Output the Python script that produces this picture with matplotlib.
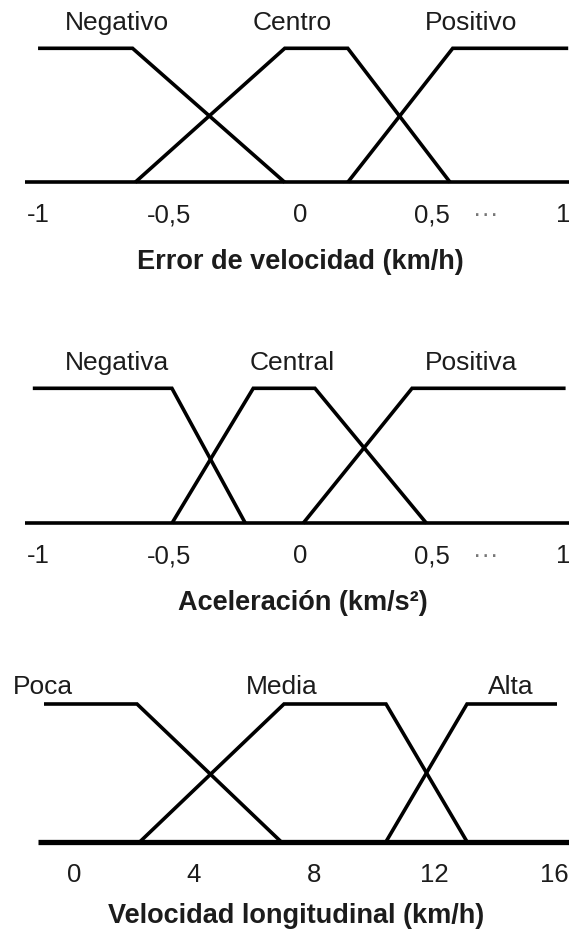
import matplotlib
matplotlib.use("Agg")
import matplotlib.pyplot as plt

plt.rcParams["font.family"] = ["Liberation Sans", "DejaVu Sans"]

# --- panel 1: error de velocidad ---
err_ticks = [-1, -0.5, 0, 0.5, 1]
err_ticklabels = ["-1", "-0,5", "0", "0,5", "1"]
err_names = ["Negativo", "Centro", "Positivo"]
err_x = [[-1.0, -0.64, -0.06],
         [-0.63, -0.06, 0.18, 0.57],
         [0.18, 0.58, 1.02]]
err_y = [[1, 1, 0], [0, 1, 1, 0], [0, 1, 1]]
err_base = [-1.05, 1.03]

# --- panel 2: aceleracion ---
acc_ticks = [-1, -0.5, 0, 0.5, 1]
acc_ticklabels = ["-1", "-0,5", "0", "0,5", "1"]
acc_names = ["Negativa", "Central", "Positiva"]
acc_x = [[-1.02, -0.49, -0.21],
         [-0.49, -0.18, 0.055, 0.48],
         [0.01, 0.425, 1.01]]
acc_y = [[1, 1, 0], [0, 1, 1, 0], [0, 1, 1]]
acc_base = [-1.05, 1.03]

# --- panel 3: velocidad longitudinal ---
vel_ticks = [0, 4, 8, 12, 16]
vel_ticklabels = ["0", "4", "8", "12", "16"]
vel_names = ["Poca", "Media", "Alta"]
vel_x = [[-1.0, 2.1, 6.9],
         [2.2, 7.0, 10.4, 13.1],
         [10.4, 13.1, 16.1]]
vel_y = [[1, 1, 0], [0, 1, 1, 0], [0, 1, 1]]
vel_base = [-1.2, 16.5]

W, H = 569, 930
fig = plt.figure(figsize=(W / 100, H / 100), dpi=100)
TXT = "#1c1c1c"
FS = 19
LW = 2.6


def panel(ytop, ybot, xlim, xs, ys, base, names, name_x, name_y,
          ticks, ticklabels, dots_x, xlabel, xlabel_px, xlabel_y,
          base_lw=LW):
    # axes box in pixels: full width, membership 1 at ytop, 0 at ybot
    ax = fig.add_axes([0, 1 - ybot / H, 1, (ybot - ytop) / H])
    ax.set_xlim(*xlim)
    ax.set_ylim(0, 1)
    for s in ax.spines.values():
        s.set_visible(False)
    ax.plot(base, [0, 0], color="black", lw=base_lw, solid_capstyle="butt",
            clip_on=False)
    for x, y in zip(xs, ys):
        ax.plot(x, y, color="black", lw=LW, solid_joinstyle="miter",
                solid_capstyle="butt", clip_on=False)
    for nm, nx in zip(names, name_x):
        ax.text(nx, name_y, nm, ha="center", va="center", fontsize=FS,
                color=TXT)
    ax.set_yticks([])
    ax.set_xticks(ticks, ticklabels)
    ax.tick_params(axis="x", length=0, pad=15, labelsize=18.5, labelcolor=TXT)
    if dots_x is not None:
        ax.set_xticks([dots_x], ["···"], minor=True)
        ax.tick_params(axis="x", which="minor", length=0, pad=15,
                       labelsize=18.5, labelcolor="#777777")
    ax.set_xlabel(xlabel, fontsize=19.5, fontweight="bold", color=TXT)
    ax.xaxis.set_label_coords(xlabel_px / W, (ybot - xlabel_y) / (ybot - ytop))
    ax.xaxis.label.set_va("center")
    return ax


panel(48.3, 182.3, (-1.145, 1.023), err_x, err_y, err_base, err_names,
      [-0.70, -0.03, 0.65], 1.19, err_ticks, err_ticklabels, 0.707,
      "Error de velocidad (km/h)", 300, 262)

panel(388.3, 523.3, (-1.145, 1.023), acc_x, acc_y, acc_base, acc_names,
      [-0.70, -0.03, 0.65], 1.19, acc_ticks, acc_ticklabels, 0.707,
      "Aceleración (km/s²)", 303, 603)

panel(704, 841.7, (-2.467, 16.5), vel_x, vel_y, vel_base, vel_names,
      [-1.03, 6.93, 14.57], 1.123, vel_ticks, vel_ticklabels, None,
      "Velocidad longitudinal (km/h)", 296, 916, base_lw=3.8)

fig.savefig("out.png", dpi=100)
